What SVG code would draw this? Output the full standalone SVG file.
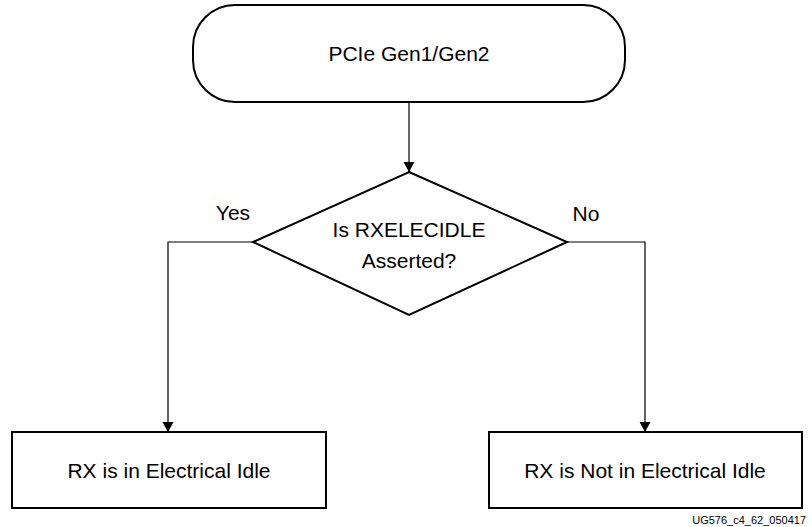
<svg xmlns="http://www.w3.org/2000/svg" width="812" height="527" viewBox="0 0 812 527">
<style>
.shape{fill:#fff;stroke:#000;stroke-width:2}
.conn{fill:none;stroke:#000;stroke-width:1.2}
text{font-family:"Liberation Sans",Arial,sans-serif;fill:#000}
.lbl{font-size:21px;text-anchor:middle}
.small{font-size:11px;text-anchor:end}
</style>
<defs>
<marker id="arr" viewBox="0 0 10 16" refX="10" refY="8" markerWidth="10" markerHeight="16" markerUnits="userSpaceOnUse" orient="auto">
<path d="M0,2.5 L10,8 L0,13.5 z" fill="#000"/>
</marker>
</defs>
<g id="connectors">
<path class="conn" d="M409,102 V172" marker-end="url(#arr)"/>
<path class="conn" d="M253,242 H168 V432" marker-end="url(#arr)"/>
<path class="conn" d="M567,242 H645 V432" marker-end="url(#arr)"/>
<text class="lbl" x="233" y="220">Yes</text>
<text class="lbl" x="586" y="221">No</text>
</g>
<g id="start">
<rect class="shape" x="193" y="5" width="432" height="97" rx="42" ry="42"/>
<text class="lbl" x="409" y="61">PCIe Gen1/Gen2</text>
</g>
<g id="decision">
<polygon class="shape" points="409,172 567,242 409,315 253,242"/>
<text class="lbl" x="409" y="237">Is RXELECIDLE</text>
<text class="lbl" x="409" y="268">Asserted?</text>
</g>
<g id="idle">
<rect class="shape" x="12" y="432" width="314" height="76"/>
<text class="lbl" x="169" y="478">RX is in Electrical Idle</text>
</g>
<g id="notidle">
<rect class="shape" x="489" y="432" width="313" height="76"/>
<text class="lbl" x="645" y="478">RX is Not in Electrical Idle</text>
</g>
<text class="small" x="806" y="524">UG576_c4_62_050417</text>
</svg>
